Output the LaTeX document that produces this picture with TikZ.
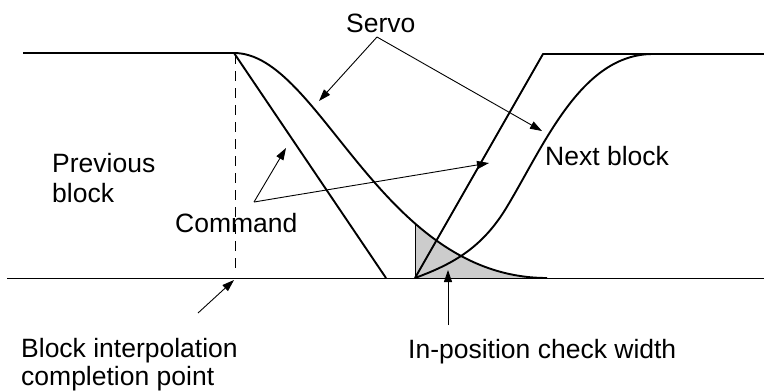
\documentclass[tikz,border=0pt]{standalone}
\usepackage{fontspec}
\setmainfont{Liberation Sans}
\usetikzlibrary{arrows.meta}
\definecolor{shadegray}{RGB}{204,204,204}
\begin{document}
\begin{tikzpicture}[x=1bp,y=-1bp,
  thickline/.style={line width=1.9bp, line join=round},
  thinline/.style={line width=1bp},
  pointer/.style={line width=0.9bp, -{Triangle[length=12bp,width=8bp]}},
  lbl/.style={font=\fontsize{26.5bp}{28bp}\selectfont, inner sep=0pt, anchor=base west},
]
\useasboundingbox (0,0) rectangle (764,391);

% key points
\coordinate (pl) at (23,53);
\coordinate (a) at (234,53);
\coordinate (cb) at (386,278);
\coordinate (sb) at (547,278);
\coordinate (nb) at (415,278);
\coordinate (nt) at (543,54);
\coordinate (st) at (653,54);
\coordinate (pr) at (764,54);
\coordinate (bl) at (7,278);
\coordinate (br) at (764,278);

% shaded in-position area
\begin{scope}
  \clip (a) .. controls (320,53) and (380,278) .. (sb) -- (a |- sb) -- cycle;
  \fill[shadegray] (415,0) rectangle (764,278);
  \draw[thinline] (415,0) -- (nb);
\end{scope}

% base line
\draw[thinline] (bl) -- (br);

% dashed completion line
\draw[line width=0.9bp, dash pattern=on 10bp off 7bp] (235,54) -- (235,268);

% previous block
\draw[thickline] (pl) -- (a);
\draw[thickline] (a) -- (cb);
\draw[thickline] (a) .. controls (320,53) and (380,278) .. (sb);

% next block
\draw[thickline] (nb) -- (nt) -- (pr);
\draw[thickline] (nb) .. controls (450,265) and (480,250) .. (505,210)
                      .. controls (543,148) and (580,54) .. (st);

% labels
\node[lbl] (servo) at (346,32) {Servo};
\node[lbl] (prev) at (52,172) {Previous};
\node[lbl] (prevb) at (52,202) {block};
\node[lbl] (cmd) at (175,232) {Command};
\node[lbl] (next) at (545,165) {Next block};
\node[lbl] (bip) at (21,357) {Block interpolation};
\node[lbl] (bip2) at (21,385) {completion point};
\node[lbl] (inpos) at (408,358) {In-position check width};

% pointers
\coordinate (servoapex) at (377,37);
\coordinate (servotip1) at (319,101);
\coordinate (servotip2) at (542,131);
\coordinate (cmdapex) at (254,202);
\coordinate (cmdtip1) at (286,148);
\coordinate (cmdtip2) at (489,163);
\coordinate (bipstart) at (198,313);
\coordinate (biptip) at (234,280);
\coordinate (ipstart) at (448,325);
\coordinate (iptip) at (448,270);

\draw[pointer] (servoapex) -- (servotip1);
\draw[pointer] (servoapex) -- (servotip2);
\draw[pointer] (cmdapex) -- (cmdtip1);
\draw[pointer] (cmdapex) -- (cmdtip2);
\draw[pointer] (bipstart) -- (biptip);
\draw[pointer] (ipstart) -- (iptip);
\end{tikzpicture}
\end{document}
